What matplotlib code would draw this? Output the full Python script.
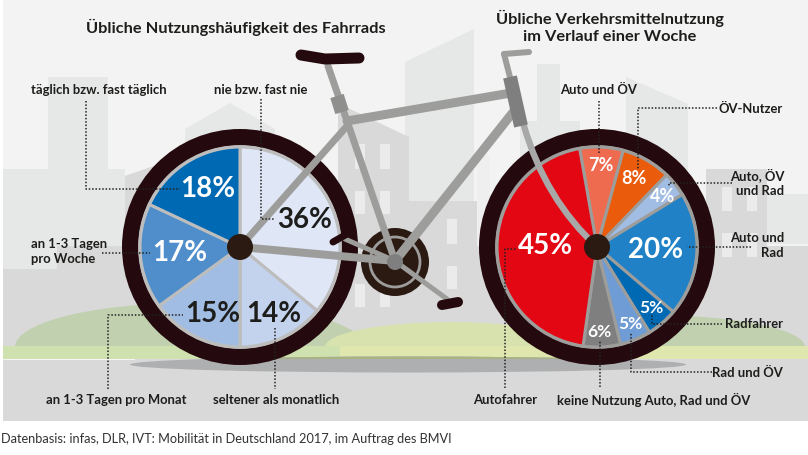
import matplotlib
matplotlib.use("Agg")
import matplotlib.pyplot as plt
from matplotlib.patches import Circle, Ellipse, PathPatch, Polygon, Rectangle
from matplotlib.path import Path

usage_labels = ["nie bzw. fast nie", "seltener als monatlich", "an 1-3 Tagen pro Monat",
                "an 1-3 Tagen\npro Woche", "täglich bzw. fast täglich"]
usage_values = [36, 14, 15, 17, 18]
usage_colors = ["#dfe6f5", "#c3d3ee", "#a2bde3", "#4f8ecb", "#0069b4"]

mode_labels = ["Auto und ÖV", "ÖV-Nutzer", "Auto, ÖV\nund Rad", "Auto und\nRad", "Radfahrer",
               "Rad und ÖV", "keine Nutzung Auto, Rad und ÖV", "Autofahrer"]
mode_values = [7, 8, 4, 20, 5, 5, 6, 45]
mode_colors = ["#ef6b50", "#ea5b0c", "#a2bde3", "#2181c6", "#0069b4", "#6f9cd4", "#7f7f7f", "#e30613"]

FRAME = "#9d9d9c"
TYRE = "#240a0e"
HUB = "#2b1a12"
TEXT = "#1d1d1b"
LIGHT = "#e6e7e7"
MID = "#d9d9d9"
WINDOW = "#ebebeb"
FONT = "Lato"

fig = plt.figure(figsize=(8.08, 4.56), dpi=100)
ax = fig.add_axes([0, 0, 1, 1])


def poly(points, color, z=1):
    ax.add_patch(Polygon(points, closed=True, fc=color, ec="none", zorder=z))


def box(x0, y0, x1, y1, color, z=1):
    ax.add_patch(Rectangle((x0, y0), x1 - x0, y1 - y0, fc=color, ec="none", zorder=z))


def tube(xs, ys, width, color=FRAME, z=6, cap="round"):
    ax.plot(xs, ys, color=color, lw=width * 0.72, solid_capstyle=cap, solid_joinstyle="round", zorder=z)


def leader(xs, ys):
    ax.plot(xs, ys, color="#222222", lw=1.1, ls=(0, (1, 1.2)), zorder=9)


def wheel(cx, cy, values, colors, start, edge):
    ax.add_patch(Circle((cx, cy), 118, fc=TYRE, ec="none", zorder=3))
    ax.pie(values, colors=colors, center=(cx, cy), radius=100, startangle=start, counterclock=True,
           wedgeprops=dict(edgecolor=edge, linewidth=2.2), frame=True)
    for p in ax.patches[-len(values):]:
        p.set_zorder(4)
    ax.add_patch(Circle((cx, cy), 100.5, fc="none", ec=edge, lw=2, zorder=4))


def label(x, y, s, ha="center", size=9.4, spacing=1.3):
    ax.text(x, y, s, ha=ha, va="center", fontsize=size, fontfamily=FONT, fontweight="bold",
            color=TEXT, linespacing=spacing, zorder=10)


def pct(x, y, v, size, color):
    ax.text(x, y, f"{v}%", ha="center", va="center", fontsize=size, fontfamily=FONT, fontweight="bold",
            color=color, zorder=10)


# background and skyline
box(3, 0, 808, 422, "#f3f3f3", 0)
box(48, 78, 108, 180, LIGHT)
box(3, 170, 125, 270, LIGHT)
poly([(185, 130), (230, 104), (275, 130), (275, 240), (185, 240)], LIGHT)
poly([(125, 177), (165, 163), (185, 163), (185, 247), (125, 247)], MID)
poly([(405, 63), (474, 30), (474, 215), (405, 215)], LIGHT)
poly([(338, 105), (350, 110), (409, 138), (409, 250), (338, 250)], MID)
box(409, 202, 477, 320, MID)
box(477, 156, 490, 293, "#efefef")
box(537, 65, 560, 130, LIGHT)
box(520, 122, 580, 200, LIGHT)
poly([(626, 78), (688, 105), (688, 240), (626, 240)], LIGHT)
box(706, 170, 767, 250, MID)
box(767, 195, 808, 245, LIGHT)
box(57, 247, 808, 348, MID)
box(3, 270, 57, 348, MID)
for wx in (355, 380):
    for wy0, wy1 in ((145, 170), (192, 215), (285, 308)):
        box(wx, wy0, wx + 10, wy1, WINDOW, 2)
for wx in (447,):
    for wy0, wy1 in ((220, 245), (267, 290)):
        box(wx, wy0, wx + 10, wy1, WINDOW, 2)
for wx in (722, 747):
    box(wx, 188, wx + 10, 212, WINDOW, 2)
    box(wx, 234, wx + 10, 258, WINDOW, 2)

# ground
ax.add_patch(Ellipse((190, 348), 350, 88, fc="#c1d1b0", ec="none", zorder=2))
ax.add_patch(Ellipse((650, 348), 310, 64, fc="#c1d1b0", ec="none", zorder=2))
ax.add_patch(Ellipse((450, 348), 250, 50, fc="#d8e2ae", ec="none", zorder=2))
box(3, 347, 340, 360, "#d0e1b0", 2)
box(340, 347, 808, 360, "#dfe6ae", 2)
box(3, 360, 808, 422, MID, 2)
box(3, 359.5, 135, 361, "#f5f5f5", 2)
ax.add_patch(Ellipse((408, 365.5), 556, 16, fc="#aeafb1", ec="none", zorder=2))
upper_shadow = Ellipse((408, 365.5), 556, 16, fc="#a8b283", ec="none", zorder=2)
ax.add_patch(upper_shadow)
upper_shadow.set_clip_path(Rectangle((0, 0), 808, 360, transform=ax.transData))
box(3, 422, 808, 456, "white", 2)

# wheels
wheel(240, 248, usage_values, usage_colors, -90, "#bdbdbd")
wheel(597, 248, mode_values, mode_colors, -100, "#9d9d9c")

# frame
tube([328, 347, 395], [67, 122, 262], 7)
tube([347, 511], [122, 94], 9)
tube([514, 395], [112, 262], 9)
tube([347, 240], [127, 248], 7)
tube([240, 395], [248, 262], 8)
tube([337, 342], [97, 113], 14, "#8f8f8e", 7, "butt")
tube([504, 529], [55, 53], 6)
tube([504, 511], [55, 82], 6)
ax.add_patch(PathPatch(Path([(524, 127), (545, 200), (597, 248)], [Path.MOVETO, Path.CURVE3, Path.CURVE3]),
                       fc="none", ec="#a8a8a8", lw=4.6, capstyle="round", zorder=6))
tube([510, 521], [78, 127], 14, "#7f7f7f", 7, "butt")

# saddle, cranks and hubs
tube([301, 325, 359], [56, 60, 59], 11, TYRE, 7)
tube([395, 345], [262, 240], 5)
tube([395, 447], [262, 300], 5)
tube([333, 347], [243, 235], 7, TYRE)
tube([442, 458], [306, 303], 10, TYRE)
ax.add_patch(Circle((395, 263), 34, fc=HUB, ec="none", zorder=5))
ax.add_patch(Circle((395, 263), 25, fc="none", ec=FRAME, lw=2, zorder=5))
ax.add_patch(Circle((395, 263), 8, fc="#7f7f7f", ec="none", zorder=8))
ax.add_patch(Circle((240, 248), 13, fc=HUB, ec="none", zorder=8))
ax.add_patch(Circle((597, 248), 13, fc=HUB, ec="none", zorder=8))

# leader lines
leader([86, 86, 180], [102, 190, 190])
leader([261, 261, 275], [100, 220, 220])
leader([102, 150], [254, 254])
leader([108, 108, 183], [390, 316, 316])
leader([275, 275], [329, 390])
leader([599, 599], [102, 155])
leader([717, 638, 638], [109, 109, 170])
leader([732, 669, 669], [184, 184, 188])
leader([751, 687], [248, 248])
leader([722, 652, 652], [325, 325, 316])
leader([712, 631, 631], [373, 373, 333])
leader([600, 600], [388, 341])
leader([505, 505, 516], [389, 250, 250])

# percent labels
usage_pos = [(305, 220), (274, 314), (213, 314), (180, 253), (208, 189)]
usage_text = [TEXT, TEXT, TEXT, "white", "white"]
for (x, y), v, c in zip(usage_pos, usage_values, usage_text):
    pct(x, y, v, 20, c)
mode_pos = [(601, 166), (634, 179), (663, 197), (656, 250), (651, 308), (630, 324), (599, 332), (545, 246)]
mode_size = [13, 13, 13, 20, 12.5, 12.5, 12.5, 20]
for (x, y), v, s in zip(mode_pos, mode_values, mode_size):
    pct(x, y, v, s, "white")

# text labels
label(261, 90, usage_labels[0])
label(276, 400, usage_labels[1])
label(116, 400, usage_labels[2])
label(31, 251.5, usage_labels[3], "left")
label(31, 90, usage_labels[4], "left")
label(599, 90, mode_labels[0])
label(783, 109, mode_labels[1], "right")
label(784, 182.5, mode_labels[2], "right")
label(784, 246, mode_labels[3], "right")
label(783, 324, mode_labels[4], "right")
label(783, 373, mode_labels[5], "right")
label(654, 400, mode_labels[6])
label(505, 400, mode_labels[7])

label(236, 27, "Übliche Nutzungshäufigkeit des Fahrrads", size=11.8, spacing=1.2)
label(610, 27, "Übliche Verkehrsmittelnutzung\nim Verlauf einer Woche", size=11.8, spacing=1.25)
ax.text(1, 439, "Datenbasis: infas, DLR, IVT: Mobilität in Deutschland 2017, im Auftrag des BMVI",
        ha="left", va="center", fontsize=9.2, fontfamily=FONT, color="#333333")

ax.set_aspect("auto")
ax.set_xlim(0, 808)
ax.set_ylim(456, 0)
ax.axis("off")
fig.savefig("out.png", dpi=100)
